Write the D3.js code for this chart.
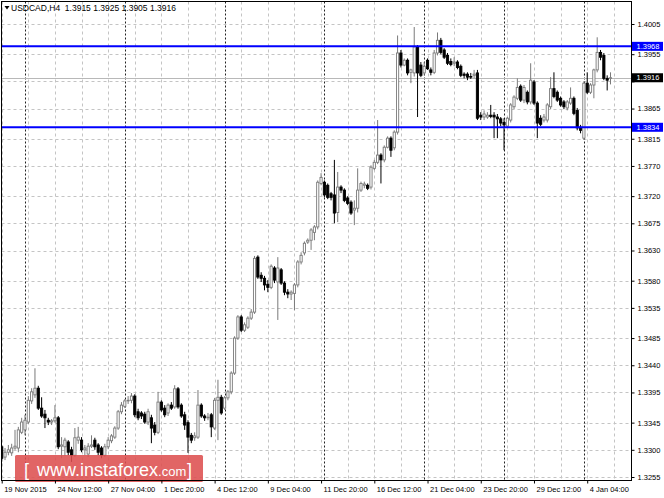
<!DOCTYPE html>
<html><head><meta charset="utf-8">
<script src="https://cdn.jsdelivr.net/npm/d3@7"></script>
<style>html,body{margin:0;padding:0;background:#fff;} svg{display:block}</style>
</head><body>
<svg id="c" width="664" height="498"></svg>
<script>
// ---------------- DATA ----------------
const symbol = "USDCAD,H4";
const open = [
1.3305,1.3288,1.3296,1.3295,1.3303,1.3303,1.3329,1.3333,1.3346,1.3381,
1.3391,1.3402,1.3369,1.3359,1.3349,1.3346,1.3348,1.3353,1.3306,1.3305,
1.3313,1.3300,1.3291,1.3316,1.3316,1.3300,1.3293,1.3306,1.3316,1.3308,
1.3303,1.3291,1.3305,1.3315,1.3321,1.3336,1.3363,1.3372,1.3381,1.3382,
1.3389,1.3363,1.3361,1.3359,1.3346,1.3353,1.3341,1.3329,1.3379,1.3369,
1.3361,1.3374,1.3371,1.3401,1.3374,1.3358,1.3345,1.3324,1.3320,1.3321,
1.3374,1.3356,1.3353,1.3358,1.3336,1.3382,1.3387,1.3369,1.3386,1.3396,
1.3427,1.3485,1.3520,1.3498,1.3503,1.3518,1.3528,1.3619,1.3589,1.3584,
1.3574,1.3569,1.3601,1.3578,1.3598,1.3576,1.3561,1.3558,1.3559,1.3573,
1.3611,1.3626,1.3644,1.3647,1.3660,1.3669,1.3741,1.3743,1.3738,1.3724,
1.3722,1.3693,1.3735,1.3730,1.3717,1.3710,1.3697,1.3700,1.3730,1.3738,
1.3738,1.3735,1.3766,1.3776,1.3788,1.3780,1.3801,1.3816,1.3800,1.3826,
1.3957,1.3937,1.3945,1.3925,1.3924,1.3967,1.3937,1.3924,1.3945,1.3929,
1.3925,1.3957,1.3978,1.3962,1.3953,1.3943,1.3940,1.3942,1.3935,1.3922,
1.3922,1.3918,1.3920,1.3924,1.3854,1.3851,1.3851,1.3854,1.3854,1.3851,
1.3848,1.3842,1.3836,1.3846,1.3868,1.3882,1.3902,1.3879,1.3892,1.3876,
1.3909,1.3874,1.3849,1.3846,1.3846,1.3868,1.3898,1.3892,1.3882,1.3876,
1.3866,1.3874,1.3882,1.3862,1.3834,1.3816,1.3907,1.3892,1.3904,1.3929,
1.3958,1.3953,1.3915,1.3915];
const high = [
1.3308,1.3303,1.3308,1.3310,1.3333,1.3338,1.3353,1.3358,1.3389,1.3402,
1.3435,1.3406,1.3387,1.3366,1.3353,1.3351,1.3374,1.3356,1.3321,1.3320,
1.3316,1.3305,1.3336,1.3338,1.3321,1.3308,1.3311,1.3324,1.3320,1.3311,
1.3306,1.3310,1.3321,1.3326,1.3339,1.3366,1.3379,1.3384,1.3389,1.3394,
1.3392,1.3368,1.3364,1.3363,1.3368,1.3358,1.3346,1.3396,1.3382,1.3374,
1.3377,1.3379,1.3407,1.3404,1.3377,1.3363,1.3349,1.3328,1.3329,1.3399,
1.3377,1.3359,1.3361,1.3361,1.3386,1.3416,1.3391,1.3389,1.3399,1.3430,
1.3488,1.3523,1.3523,1.3511,1.3521,1.3533,1.3621,1.3622,1.3594,1.3588,
1.3581,1.3607,1.3604,1.3619,1.3601,1.3579,1.3566,1.3564,1.3576,1.3614,
1.3627,1.3645,1.3650,1.3667,1.3672,1.3746,1.3758,1.3746,1.3741,1.3727,
1.3780,1.3760,1.3738,1.3733,1.3720,1.3713,1.3713,1.3766,1.3744,1.3744,
1.3741,1.3771,1.3780,1.3846,1.3791,1.3804,1.3819,1.3819,1.3829,1.3986,
1.3962,1.3948,1.3948,1.3931,1.4000,1.3970,1.3942,1.3942,1.3948,1.3933,
1.3962,1.3991,1.3982,1.3965,1.3957,1.3948,1.3950,1.3945,1.3938,1.3925,
1.3925,1.3924,1.3929,1.3929,1.3859,1.3862,1.3859,1.3871,1.3859,1.3856,
1.3851,1.3849,1.3851,1.3874,1.3887,1.3915,1.3905,1.3904,1.3895,1.3940,
1.3912,1.3877,1.3854,1.3856,1.3874,1.3917,1.3925,1.3895,1.3885,1.3879,
1.3879,1.3900,1.3885,1.3866,1.3838,1.3910,1.3925,1.3907,1.3931,1.3983,
1.3962,1.3957,1.3920,1.3925];
const low = [
1.3280,1.3283,1.3291,1.3290,1.3300,1.3296,1.3326,1.3324,1.3343,1.3376,
1.3386,1.3366,1.3353,1.3336,1.3341,1.3341,1.3345,1.3301,1.3286,1.3290,
1.3291,1.3280,1.3288,1.3310,1.3296,1.3291,1.3288,1.3303,1.3300,1.3291,
1.3286,1.3288,1.3301,1.3311,1.3318,1.3333,1.3359,1.3369,1.3376,1.3377,
1.3354,1.3349,1.3351,1.3343,1.3341,1.3311,1.3324,1.3326,1.3363,1.3354,
1.3356,1.3366,1.3368,1.3368,1.3353,1.3333,1.3295,1.3311,1.3315,1.3318,
1.3353,1.3348,1.3349,1.3321,1.3333,1.3316,1.3358,1.3366,1.3382,1.3392,
1.3424,1.3482,1.3495,1.3495,1.3500,1.3515,1.3525,1.3583,1.3578,1.3564,
1.3561,1.3566,1.3576,1.3515,1.3573,1.3556,1.3551,1.3548,1.3531,1.3569,
1.3607,1.3622,1.3641,1.3631,1.3647,1.3665,1.3738,1.3718,1.3715,1.3713,
1.3675,1.3677,1.3725,1.3710,1.3705,1.3689,1.3672,1.3693,1.3727,1.3733,
1.3730,1.3731,1.3763,1.3773,1.3741,1.3776,1.3799,1.3785,1.3796,1.3822,
1.3933,1.3935,1.3920,1.3907,1.3918,1.3851,1.3917,1.3920,1.3929,1.3920,
1.3922,1.3953,1.3955,1.3947,1.3937,1.3935,1.3935,1.3930,1.3917,1.3915,
1.3912,1.3914,1.3915,1.3846,1.3846,1.3846,1.3848,1.3849,1.3816,1.3816,
1.3836,1.3796,1.3833,1.3842,1.3864,1.3879,1.3876,1.3874,1.3872,1.3872,
1.3871,1.3816,1.3836,1.3842,1.3842,1.3864,1.3882,1.3876,1.3868,1.3864,
1.3862,1.3871,1.3854,1.3829,1.3824,1.3813,1.3889,1.3889,1.3882,1.3925,
1.3945,1.3912,1.3895,1.3905];
const close = [
1.3286,1.3296,1.3300,1.3303,1.3306,1.3333,1.3346,1.3349,1.3382,1.3396,
1.3402,1.3369,1.3356,1.3353,1.3346,1.3348,1.3353,1.3305,1.3308,1.3316,
1.3296,1.3291,1.3320,1.3321,1.3300,1.3303,1.3306,1.3308,1.3305,1.3296,
1.3291,1.3305,1.3316,1.3323,1.3336,1.3363,1.3374,1.3381,1.3382,1.3389,
1.3358,1.3353,1.3356,1.3346,1.3363,1.3336,1.3329,1.3379,1.3366,1.3358,
1.3374,1.3369,1.3401,1.3371,1.3356,1.3341,1.3321,1.3316,1.3323,1.3374,
1.3356,1.3353,1.3354,1.3338,1.3382,1.3387,1.3361,1.3386,1.3396,1.3427,
1.3485,1.3520,1.3498,1.3507,1.3518,1.3528,1.3617,1.3586,1.3584,1.3573,
1.3569,1.3604,1.3581,1.3601,1.3576,1.3561,1.3558,1.3561,1.3573,1.3611,
1.3622,1.3642,1.3647,1.3664,1.3669,1.3743,1.3751,1.3722,1.3718,1.3718,
1.3692,1.3735,1.3730,1.3713,1.3708,1.3692,1.3700,1.3730,1.3741,1.3740,
1.3733,1.3768,1.3776,1.3788,1.3780,1.3801,1.3816,1.3796,1.3826,1.3957,
1.3937,1.3945,1.3924,1.3929,1.3967,1.3924,1.3920,1.3935,1.3931,1.3925,
1.3957,1.3978,1.3958,1.3950,1.3940,1.3938,1.3942,1.3933,1.3920,1.3920,
1.3917,1.3917,1.3922,1.3849,1.3851,1.3856,1.3854,1.3852,1.3851,1.3848,
1.3841,1.3838,1.3849,1.3871,1.3884,1.3900,1.3879,1.3900,1.3876,1.3912,
1.3874,1.3841,1.3839,1.3851,1.3871,1.3898,1.3885,1.3879,1.3871,1.3868,
1.3876,1.3882,1.3857,1.3833,1.3829,1.3907,1.3892,1.3904,1.3929,1.3958,
1.3950,1.3915,1.3912,1.3916];
const priceTicks = [1.3255,1.3300,1.3345,1.3395,1.3440,1.3485,1.3535,1.3580,1.3630,
                    1.3675,1.3720,1.3770,1.3815,1.3865,1.3910,1.3955,1.4005];
const timeLabels = ["19 Nov 2015","24 Nov 12:00","27 Nov 04:00","1 Dec 20:00","4 Dec 12:00",
                    "9 Dec 04:00","11 Dec 20:00","16 Dec 12:00","21 Dec 04:00","23 Dec 20:00",
                    "29 Dec 12:00","4 Jan 04:00"];
const timeLabelBars = [0,16,32,48,64,80,96,112,128,144,160,176];
const weekStartBars = [7,37,67,97,127,151,175];
const levels = [1.3968, 1.3834];
const lastPrice = 1.3916;

// ---------------- LAYOUT ----------------
const svg = d3.select("#c");
const L = 1.5, T = 1.5, R = 631.5, B = 480.5;
const n = open.length;
const x = d3.scaleLinear().domain([0, n - 1]).range([1.7, 610.5]);
const y = d3.scaleLinear().domain([1.3255, 1.4005]).range([477, 24]);
const FONT = "'Liberation Sans', Arial, sans-serif";
const fmt = d3.format(".4f");

svg.append("rect").attr("width", 664).attr("height", 498).attr("fill", "#fff");
svg.append("defs").append("clipPath").attr("id", "plot")
  .append("rect").attr("x", L).attr("y", T).attr("width", R - L).attr("height", B - T);
const g = svg.append("g").attr("clip-path", "url(#plot)");

// horizontal grid
g.selectAll("line.hg").data(priceTicks).join("line")
  .attr("x1", L).attr("x2", R).attr("y1", d => Math.round(y(d)) + 0.5).attr("y2", d => Math.round(y(d)) + 0.5)
  .attr("stroke", "#c4c4c4").attr("stroke-dasharray", "3,3");
// vertical grid every 8 bars
const gridBars = d3.range(0, n + 8, 8).filter(i => x(i) < R);
g.selectAll("line.vg").data(gridBars).join("line")
  .attr("x1", d => Math.round(x(d)) + 0.5).attr("x2", d => Math.round(x(d)) + 0.5).attr("y1", T).attr("y2", B)
  .attr("stroke", "#c4c4c4").attr("stroke-dasharray", "3,3");
// period separators
g.selectAll("line.sep").data(weekStartBars).join("line")
  .attr("x1", d => Math.round(x(d)) + 0.5).attr("x2", d => Math.round(x(d)) + 0.5).attr("y1", T).attr("y2", B)
  .attr("stroke", "#222").attr("stroke-dasharray", "2,2");
// last price line
g.append("line").attr("x1", L).attr("x2", R)
  .attr("y1", Math.round(y(lastPrice)) + 0.5).attr("y2", Math.round(y(lastPrice)) + 0.5)
  .attr("stroke", "#b8b8b8");

// candles
const bars = open.map((o, i) => ({ i, o, h: high[i], l: low[i], c: close[i] }));
const bw = 2.2;
g.selectAll("line.wick").data(bars).join("line")
  .attr("x1", d => x(d.i)).attr("x2", d => x(d.i))
  .attr("y1", d => y(d.h)).attr("y2", d => y(d.l))
  .attr("stroke", d => d.c >= d.o ? "#7a7a7a" : "#000").attr("stroke-width", 1);
g.selectAll("rect.body").data(bars).join("rect")
  .attr("x", d => x(d.i) - bw / 2).attr("width", bw)
  .attr("y", d => y(Math.max(d.o, d.c)))
  .attr("height", d => Math.max(0.6, Math.abs(y(d.o) - y(d.c))))
  .attr("fill", d => d.c >= d.o ? "#fff" : "#000")
  .attr("stroke", d => d.c >= d.o ? "#7a7a7a" : "#000").attr("stroke-width", 0.9);

// horizontal levels
g.selectAll("line.lvl").data(levels).join("line")
  .attr("x1", L).attr("x2", R).attr("y1", d => y(d)).attr("y2", d => y(d))
  .attr("stroke", "#0000ff").attr("stroke-width", 2);

// watermark
const wm = svg.append("g");
wm.append("rect").attr("x", 15).attr("y", 455).attr("width", 188).attr("height", 27).attr("rx", 1.5)
  .attr("fill", "#dd5050").attr("opacity", 0.88);
wm.append("text").attr("x", 24).attr("y", 476).attr("fill", "#fff").attr("font-family", FONT)
  .attr("font-size", 18).text("[");
wm.append("text").attr("x", 37).attr("y", 476).attr("fill", "#fff").attr("font-family", FONT)
  .attr("font-size", 18).text("www.instaforex")
  .append("tspan").attr("font-size", 13).text(".com");
wm.append("text").attr("x", 187).attr("y", 476).attr("fill", "#fff").attr("font-family", FONT)
  .attr("font-size", 18).text("]");

// frame
svg.append("rect").attr("x", L).attr("y", T).attr("width", R - L).attr("height", B - T)
  .attr("fill", "none").attr("stroke", "#000").attr("stroke-width", 1);

// right axis (the tick hidden behind the last-price tag keeps only its tick mark)
const hiddenTick = priceTicks.find(v => Math.abs(y(v) - y(lastPrice)) < 6);
const ya = svg.append("g").attr("transform", `translate(${R},0)`)
  .call(d3.axisRight(y).tickValues(priceTicks)
    .tickFormat(v => v === hiddenTick ? "" : fmt(v)).tickSize(3).tickPadding(3));
ya.select(".domain").remove();
ya.selectAll("line").attr("stroke", "#000");
ya.selectAll("text").attr("font-family", FONT).attr("font-size", 7.5).attr("fill", "#000");

// bottom axis
const xa = svg.append("g").attr("transform", `translate(0,${B})`)
  .call(d3.axisBottom(x).tickValues(timeLabelBars).tickFormat((d, k) => timeLabels[k]).tickSize(3));
xa.select(".domain").remove();
xa.selectAll("line").attr("stroke", "#000");
xa.selectAll("text").attr("font-family", FONT).attr("font-size", 7.5).attr("fill", "#000")
  .attr("text-anchor", "start").attr("dx", 2).attr("y", 6).attr("dy", "0.71em");

// price tags
function tag(v, bg) {
  const yy = y(v);
  svg.append("rect").attr("x", R + 0.5).attr("y", yy - 4.5).attr("width", 31).attr("height", 9).attr("fill", bg);
  svg.append("text").attr("x", R + 5).attr("y", yy + 2.7).attr("fill", "#fff")
    .attr("font-family", FONT).attr("font-size", 7.5).text(fmt(v));
}
levels.forEach(v => tag(v, "#0000ff"));
tag(lastPrice, "#000");

// title
svg.append("path").attr("d", "M4.5,6 L9.5,6 L7,9.5 Z").attr("fill", "#000");
svg.append("text").attr("x", 11).attr("y", 11).attr("font-family", FONT).attr("font-size", 8.5)
  .attr("fill", "#000").attr("xml:space", "preserve")
  .text(`${symbol}  ${fmt(open[n-1])} ${fmt(high[n-1])} ${fmt(low[n-1])} ${fmt(close[n-1])}`);
</script>
</body></html>
